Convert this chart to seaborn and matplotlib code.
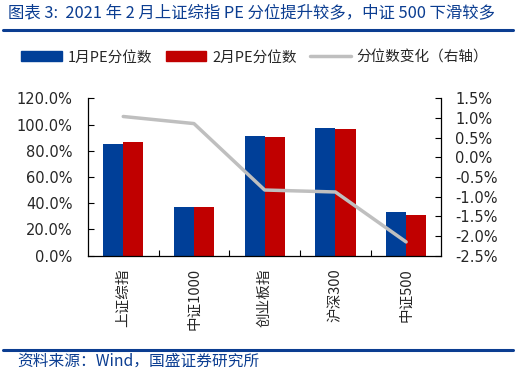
import numpy as np
import pandas as pd
import matplotlib
matplotlib.use("Agg")
import matplotlib.pyplot as plt
from matplotlib.ticker import FuncFormatter, FixedLocator
import seaborn as sns

categories = ["上证综指", "中证1000", "创业板指", "沪深300", "中证500"]
jan_pe = [85.0, 36.8, 91.0, 97.1, 33.6]
feb_pe = [86.4, 37.5, 90.2, 96.3, 31.3]
pe_change = [1.04, 0.86, -0.83, -0.88, -2.15]
series_names = ["1月PE分位数", "2月PE分位数"]

sns.set_theme(style="white")
plt.rcParams['font.family'] = ['Noto Sans CJK SC', 'DejaVu Sans']

df = pd.DataFrame({
    "指数": categories * 2,
    "值": jan_pe + feb_pe,
    "系列": [series_names[0]] * 5 + [series_names[1]] * 5,
})

blue = "#003F98"
red = "#C00000"
gray = "#BFBFBF"
title_blue = "#0B3D91"

fig = plt.figure(figsize=(5.2, 3.7), dpi=100)
ax = fig.add_axes([0.169, 0.309, 0.68, 0.425])

sns.barplot(data=df, x="指数", y="值", hue="系列", palette=[blue, red],
            width=0.57, saturation=1, linewidth=0, gap=0, ax=ax, legend=False)
ax2 = ax.twinx()
sns.lineplot(x=np.arange(len(categories)), y=pe_change, color=gray, linewidth=2.5, ax=ax2)

ax.set_xlim(-0.5, len(categories) - 0.5)
ax.set_ylim(0, 120)
ax.set_yticks(np.arange(0, 121, 20))
ax.yaxis.set_major_formatter(FuncFormatter(lambda v, p: f"{v:.1f}%"))
ax.set_xlabel("")
ax.set_ylabel("")
ax.set_xticks(np.arange(len(categories)))
ax.set_xticklabels(categories, rotation=90, fontsize=10.5, family=['Noto Sans CJK SC', 'DejaVu Sans'])
ax.tick_params(axis="x", length=0, pad=9)
ax.xaxis.set_minor_locator(FixedLocator(np.arange(0.5, len(categories) - 0.5, 1)))
ax.tick_params(axis="x", which="minor", direction="in", length=4, color="black", width=0.8, bottom=True)
ax.tick_params(axis="y", which="major", direction="in", length=4, color="black", width=0.8,
               labelsize=10.5, left=True, labelleft=True, pad=11)
for lab in ax.get_yticklabels():
    lab.set_family("DejaVu Sans")

ax2.set_ylim(-2.5, 1.5)
ax2.set_yticks(np.arange(-2.5, 1.51, 0.5))
ax2.yaxis.set_major_formatter(FuncFormatter(lambda v, p: f"{v:.1f}%"))
ax2.tick_params(axis="y", direction="in", length=4, color="black", width=0.8, labelsize=10.5,
                right=True, pad=10)
for lab in ax2.get_yticklabels():
    lab.set_family("DejaVu Sans")

for a in (ax, ax2):
    a.spines["top"].set_visible(False)
    for s in ("left", "right", "bottom"):
        a.spines[s].set_color("black")
        a.spines[s].set_linewidth(0.9)
ax2.spines["left"].set_visible(False)
ax2.spines["bottom"].set_visible(False)
ax.spines["right"].set_visible(False)

# legend
handles = [
    matplotlib.patches.Patch(color=blue),
    matplotlib.patches.Patch(color=red),
    matplotlib.lines.Line2D([0], [0], color=gray, linewidth=2.5),
]
fig.legend(handles, series_names + ["分位数变化（右轴）"], loc="center",
           bbox_to_anchor=(0.49, 0.845), ncol=3, frameon=False, fontsize=10.5,
           handlelength=2.8, handleheight=0.7, columnspacing=0.9, handletextpad=0.4)

# title and source
fig.text(0.015, 0.965, "图表 3:  2021 年 2 月上证综指 PE 分位提升较多，中证 500 下滑较多",
         color=title_blue, fontsize=11.8, va="center", ha="left", style="italic")
fig.add_artist(matplotlib.lines.Line2D([0.006, 0.987], [0.918, 0.918], color=title_blue, linewidth=2.2))
fig.add_artist(matplotlib.lines.Line2D([0.006, 0.987], [0.055, 0.055], color=title_blue, linewidth=2.2))
fig.text(0.033, 0.025, "资料来源：Wind，国盛证券研究所", color=title_blue, fontsize=11.3,
         va="center", ha="left", style="italic")

fig.savefig("out.png", dpi=100)
